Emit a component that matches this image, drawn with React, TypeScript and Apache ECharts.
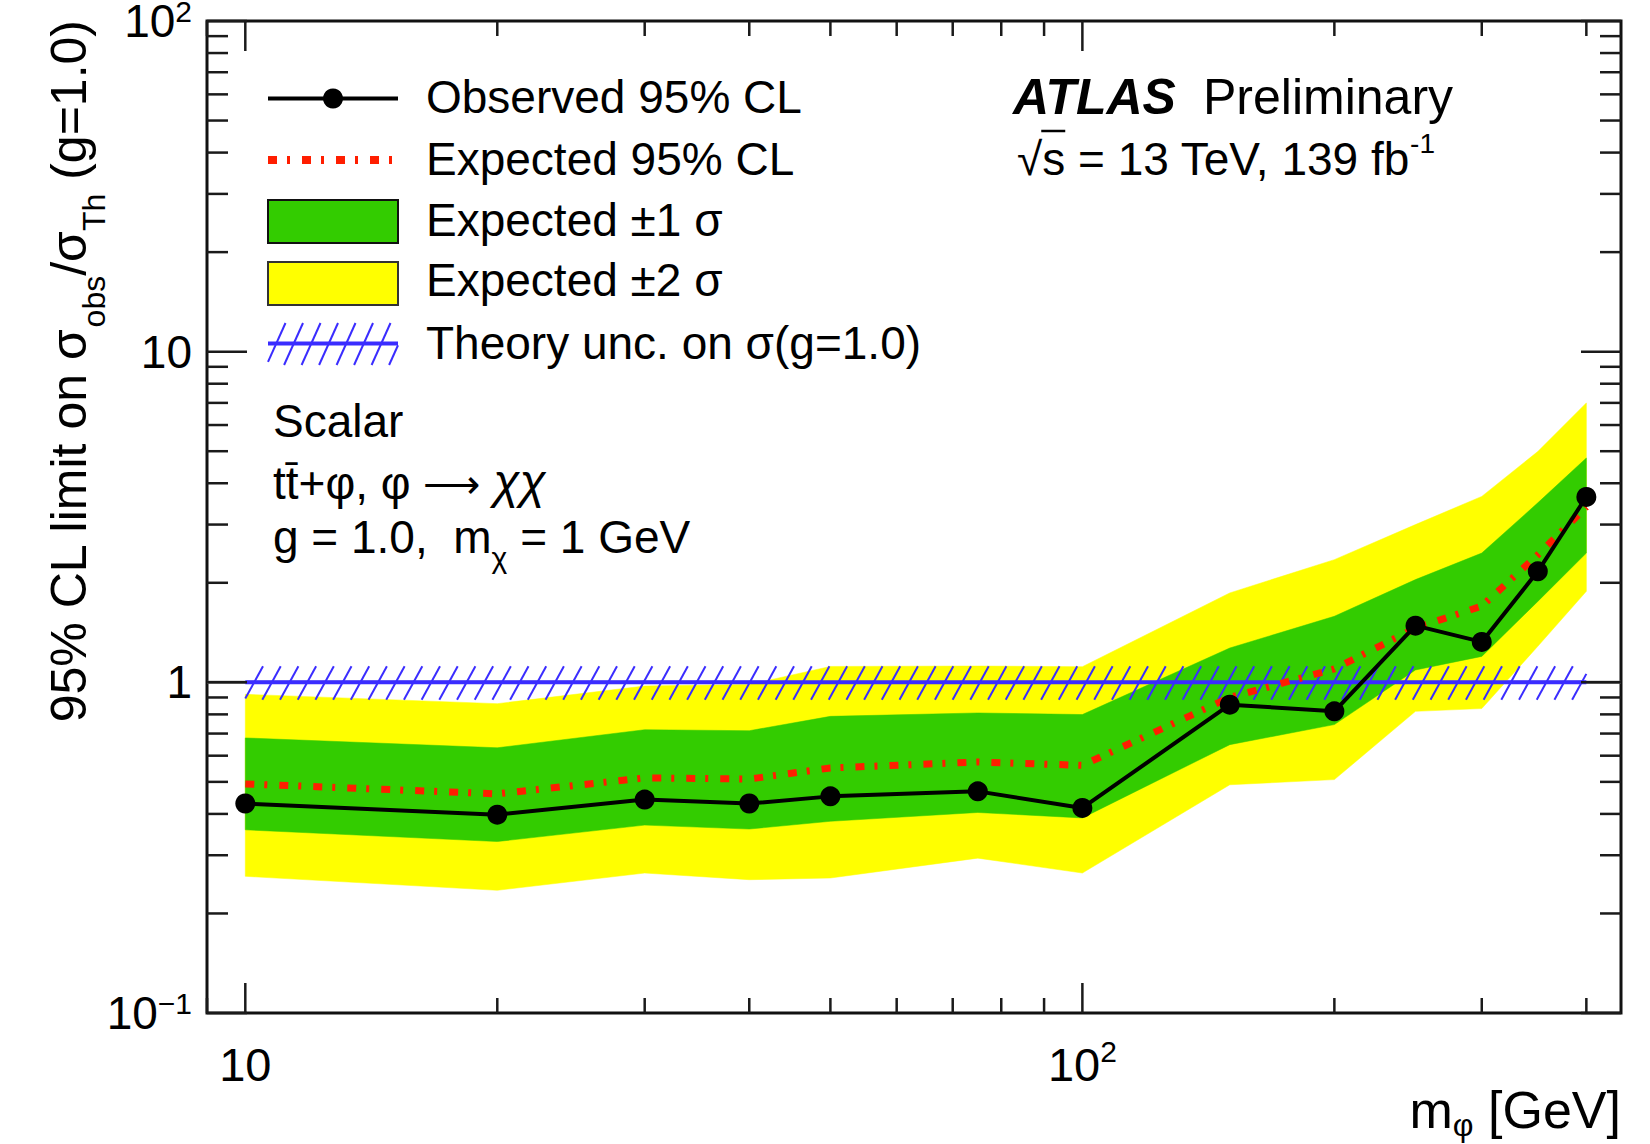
import React, { useEffect, useRef } from "react";
import * as echarts from "echarts";

const FONT = '"Liberation Sans", Arial, Helvetica, sans-serif';

// ---- data ----
const massPoints = [10, 20, 30, 40, 50, 75, 100, 150, 200, 250, 300, 350, 400];
const observedLimit = [0.43, 0.398, 0.442, 0.43, 0.452, 0.468, 0.417, 0.856, 0.817, 1.484, 1.325, 2.166, 3.636];
const expectedLimit = [0.493, 0.46, 0.514, 0.51, 0.551, 0.574, 0.561, 0.9, 1.098, 1.46, 1.7, 2.43, 3.39];
const oneSigmaLow = [0.358, 0.33, 0.37, 0.36, 0.38, 0.404, 0.389, 0.648, 0.745, 1.09, 1.198, 1.757, 2.46];
const oneSigmaHigh = [0.679, 0.634, 0.719, 0.714, 0.789, 0.808, 0.799, 1.27, 1.584, 2.045, 2.46, 3.49, 4.77];
const twoSigmaLow = [0.259, 0.235, 0.265, 0.253, 0.256, 0.294, 0.265, 0.49, 0.508, 0.817, 0.833, 1.285, 1.885];
const twoSigmaHigh = [0.92, 0.862, 0.975, 0.985, 1.117, 1.12, 1.115, 1.864, 2.35, 3.0, 3.65, 4.99, 7.0];
const theoryCentral = [1, 1, 1, 1, 1, 1, 1, 1, 1, 1, 1, 1, 1];
const theoryLow = [0.886, 0.886, 0.886, 0.886, 0.886, 0.886, 0.886, 0.886, 0.886, 0.886, 0.886, 0.886, 0.886];
const theoryHigh = [1.118, 1.118, 1.118, 1.118, 1.118, 1.118, 1.118, 1.118, 1.118, 1.118, 1.118, 1.118, 1.118];

// axis ranges and ticks
const xRange = [9, 440];
const yRange = [0.1, 100];
const yMajorTicks = [0.1, 1, 10, 100];
const yMinorTicks = [0.2, 0.3, 0.4, 0.5, 0.6, 0.7, 0.8, 0.9, 2, 3, 4, 5, 6, 7, 8, 9, 20, 30, 40, 50, 60, 70, 80, 90];
const xMajorTicks = [10, 100];
const xMinorTicks = [9, 20, 30, 40, 50, 60, 70, 80, 90, 200, 300, 400];

// legend texts
const legendLabels = [
  "Observed 95% CL",
  "Expected 95% CL",
  "Expected \u00b11 \u03c3",
  "Expected \u00b12 \u03c3",
  "Theory unc. on \u03c3(g=1.0)",
];

const GREEN = "#33cc00";
const YELLOW = "#ffff00";
const RED = "#ff1e00";
const BLUE = "#3a2cff";
const GREY = "#6e6e6e";
const TICK = "#1a1a1a";
const DASH = [9, 10, 3, 12];

let measureCtx: any = null;
function textWidth(text: string, font: string) {
  if (!measureCtx) measureCtx = document.createElement("canvas").getContext("2d");
  measureCtx.font = font;
  return measureCtx.measureText(text).width;
}

type Seg = { t: string; size: number; dy?: number; bold?: boolean; italic?: boolean; dx?: number };
function fontOf(s: Seg) {
  return `${s.italic ? "italic " : ""}${s.bold ? "bold " : ""}${s.size}px ${FONT}`;
}
function segsWidth(segs: Seg[]) {
  return segs.reduce((w, s) => w + textWidth(s.t, fontOf(s)) + (s.dx ?? 0), 0);
}
function layoutSegs(segs: Seg[], x0: number, baseline: number) {
  const els: any[] = [];
  const xs: number[] = [];
  let x = x0;
  for (const s of segs) {
    const font = fontOf(s);
    xs.push(x);
    els.push({
      type: "text",
      x,
      y: baseline + (s.dy ?? 0) - 0.3465 * s.size,
      silent: true,
      style: {
        text: s.t,
        font,
        fill: "#000",
        align: "left",
        verticalAlign: "middle",
        textAlign: "left",
        textVerticalAlign: "middle",
      },
    });
    x += textWidth(s.t, font) + (s.dx ?? 0);
  }
  return { els, xs, end: x };
}

function hatchLines(xl: number, xr: number, topAt: (x: number) => number, botAt: (x: number) => number, step: number, slant: number, color: string) {
  const out: any[] = [];
  const h0 = botAt(xl) - topAt(xl);
  for (let x0 = xl - slant * h0; x0 < xr; x0 += step) {
    const yb = botAt(Math.max(xl, Math.min(xr, x0)));
    const yt = topAt(Math.max(xl, Math.min(xr, x0)));
    const dx = slant * (yb - yt);
    const tMin = Math.max(0, (xl - x0) / dx);
    const tMax = Math.min(1, (xr - x0) / dx);
    if (tMin >= tMax) continue;
    out.push({
      type: "line",
      shape: { x1: x0 + tMin * dx, y1: yb - tMin * (yb - yt), x2: x0 + tMax * dx, y2: yb - tMax * (yb - yt) },
      style: { stroke: color, lineWidth: 2 },
      silent: true,
    });
  }
  return out;
}

function decadeLabel(v: number) {
  const lg = Math.log10(v);
  const e = Math.round(lg);
  if (Math.abs(lg - e) > 1e-6) return "";
  if (e === 0) return "1";
  if (e === 1) return "10";
  return "10{sup|" + (e < 0 ? "\u2212" : "") + Math.abs(e) + "}";
}

function bandSeries(name: string, lo: number[], hi: number[], color: string, z: number) {
  return {
    type: "custom",
    name,
    z,
    silent: true,
    coordinateSystem: "cartesian2d",
    data: massPoints.map((m, i) => [m, lo[i], hi[i]]),
    encode: { x: 0, y: [1, 2] },
    renderItem: (params: any, api: any) => {
      if (params.dataIndex !== 0) return { type: "group", children: [] };
      const lower = massPoints.map((m, i) => api.coord([m, lo[i]]));
      const upper = massPoints.map((m, i) => api.coord([m, hi[i]])).reverse();
      return {
        type: "polygon",
        shape: { points: [...lower, ...upper] },
        style: { fill: color, stroke: color, lineWidth: 0.5 },
      };
    },
  };
}

function buildOption() {
  const xRich = {
    sup: { fontFamily: FONT, fontSize: 30, lineHeight: 30, verticalAlign: "top", color: "#000" },
  };
  const yRich = {
    sup: { fontFamily: FONT, fontSize: 30, lineHeight: 34, verticalAlign: "top", color: "#000" },
  };

  // ---- texts ----
  const graphics: any[] = [];

  // y-axis title (rotated)
  const ySegs: Seg[] = [
    { t: "95% CL limit on \u03c3", size: 50 },
    { t: "obs", size: 32, dy: 19 },
    { t: "/\u03c3", size: 50 },
    { t: "Th", size: 32, dy: 19 },
    { t: " (g=1.0)", size: 50 },
  ];
  const yLen = segsWidth(ySegs);
  graphics.push({
    type: "group",
    x: 86,
    y: 20 + yLen,
    rotation: Math.PI / 2,
    children: layoutSegs(ySegs, 0, 0).els,
  });

  // x-axis title
  const xSegs: Seg[] = [
    { t: "m", size: 52 },
    { t: "\u03c6", size: 32, dy: 8 },
    { t: " [GeV]", size: 52 },
  ];
  const xLen = segsWidth(xSegs);
  graphics.push(...layoutSegs(xSegs, 1621 - xLen, 1128).els);

  // ATLAS label
  graphics.push(...layoutSegs([{ t: "ATLAS", size: 50, bold: true, italic: true }], 1013, 114.5).els);
  graphics.push(...layoutSegs([{ t: "Preliminary", size: 50 }], 1203, 114.5).els);
  const lumi = layoutSegs(
    [
      { t: "\u221a", size: 46 },
      { t: "s", size: 46 },
      { t: " = 13 TeV, 139 fb", size: 46 },
      { t: "-1", size: 28, dy: -22 },
    ],
    1017,
    175
  );
  graphics.push(...lumi.els);
  graphics.push({
    type: "line",
    silent: true,
    shape: { x1: lumi.xs[1] - 1, y1: 131, x2: lumi.xs[2], y2: 131 },
    style: { stroke: "#000", lineWidth: 2.5 },
  });

  // process text
  graphics.push(...layoutSegs([{ t: "Scalar", size: 46 }], 273, 436.5).els);
  graphics.push(
    ...layoutSegs(
      [
        { t: "tt\u0304+\u03c6, \u03c6 ", size: 46 },
        { t: "\u27f6", size: 40, dy: -1 },
        { t: " ", size: 46 },
        { t: "\u03c7\u03c7", size: 48, italic: true },
      ],
      273,
      498.5
    ).els
  );
  graphics.push(
    ...layoutSegs(
      [
        { t: "g = 1.0,  m", size: 46 },
        { t: "\u03c7", size: 30, dy: 15 },
        { t: " = 1 GeV", size: 46 },
      ],
      273,
      553
    ).els
  );

  // legend symbols
  const lx1 = 268;
  const lx2 = 398;
  graphics.push(
    { type: "line", silent: true, shape: { x1: lx1, y1: 98.5, x2: lx2, y2: 98.5 }, style: { stroke: "#000", lineWidth: 4 } },
    { type: "circle", silent: true, shape: { cx: (lx1 + lx2) / 2, cy: 98.5, r: 10 }, style: { fill: "#000" } },
    { type: "line", silent: true, shape: { x1: lx1, y1: 160, x2: lx2, y2: 160 }, style: { stroke: RED, lineWidth: 8, lineDash: DASH } },
    { type: "rect", silent: true, shape: { x: lx1, y: 200, width: lx2 - lx1, height: 43 }, style: { fill: GREEN, stroke: "#111", lineWidth: 2 } },
    { type: "rect", silent: true, shape: { x: lx1, y: 262, width: lx2 - lx1, height: 43 }, style: { fill: YELLOW, stroke: "#333", lineWidth: 2 } }
  );
  graphics.push(...hatchLines(lx1, lx2, () => 323, () => 365, 17.5, 0.45, BLUE));
  graphics.push({ type: "line", silent: true, shape: { x1: lx1, y1: 343.5, x2: lx2, y2: 343.5 }, style: { stroke: BLUE, lineWidth: 4 } });
  const legendBase = [112.5, 174.5, 235.5, 295.5, 358.5];
  legendLabels.forEach((t, i) => graphics.push(...layoutSegs([{ t, size: 46 }], 426, legendBase[i]).els));

  return {
    animation: false,
    backgroundColor: "#ffffff",
    grid: {
      left: 207,
      right: 29,
      top: 21,
      bottom: 131,
      show: true,
      borderColor: "#111",
      borderWidth: 3,
      backgroundColor: "transparent",
      containLabel: false,
      outerBoundsMode: "none",
    },
    xAxis: {
      type: "log",
      logBase: 10,
      min: xRange[0],
      max: xRange[1],
      axisLine: { show: false },
      axisTick: { show: false },
      splitLine: { show: false },
      minorTick: { show: false },
      axisLabel: {
        formatter: decadeLabel,
        color: "#000",
        fontFamily: FONT,
        fontSize: 47,
        lineHeight: 56,
        margin: 23,
        rich: xRich,
      },
    },
    yAxis: {
      type: "log",
      logBase: 10,
      min: yRange[0],
      max: yRange[1],
      axisLine: { show: false },
      axisTick: { show: false },
      splitLine: { show: false },
      minorTick: { show: false },
      axisLabel: {
        formatter: decadeLabel,
        color: "#000",
        fontFamily: FONT,
        fontSize: 46,
        lineHeight: 50,
        margin: 15,
        rich: yRich,
      },
    },
    series: [
      {
        type: "custom",
        name: "reference line",
        z: 1,
        silent: true,
        coordinateSystem: "cartesian2d",
        data: [[massPoints[0], 1]],
        renderItem: (params: any, api: any) => {
          const cs = params.coordSys;
          const y = api.coord([massPoints[0], 1])[1];
          return { type: "line", shape: { x1: cs.x, y1: y, x2: cs.x + cs.width, y2: y }, style: { stroke: GREY, lineWidth: 3 } };
        },
      },
      bandSeries("Expected \u00b12 \u03c3", twoSigmaLow, twoSigmaHigh, YELLOW, 2),
      bandSeries("Expected \u00b11 \u03c3", oneSigmaLow, oneSigmaHigh, GREEN, 3),
      {
        type: "custom",
        name: "Theory unc.",
        z: 4,
        silent: true,
        coordinateSystem: "cartesian2d",
        data: massPoints.map((m, i) => [m, theoryLow[i], theoryHigh[i]]),
        encode: { x: 0, y: [1, 2] },
        renderItem: (params: any, api: any) => {
          if (params.dataIndex !== 0) return { type: "group", children: [] };
          const tops = massPoints.map((m, i) => api.coord([m, theoryHigh[i]]));
          const bots = massPoints.map((m, i) => api.coord([m, theoryLow[i]]));
          const interp = (pts: number[][], x: number) => {
            for (let i = 0; i < pts.length - 1; i++) {
              if (x >= pts[i][0] && x <= pts[i + 1][0]) {
                const f = (x - pts[i][0]) / (pts[i + 1][0] - pts[i][0]);
                return pts[i][1] + f * (pts[i + 1][1] - pts[i][1]);
              }
            }
            return x < pts[0][0] ? pts[0][1] : pts[pts.length - 1][1];
          };
          const xl = tops[0][0];
          const xr = tops[tops.length - 1][0];
          return {
            type: "group",
            children: hatchLines(xl, xr, (x) => interp(tops, x), (x) => interp(bots, x), 17.7, 0.55, BLUE),
          };
        },
      },
      {
        type: "line",
        name: "Theory",
        z: 5,
        silent: true,
        data: massPoints.map((m, i) => [m, theoryCentral[i]]),
        symbol: "none",
        lineStyle: { color: BLUE, width: 4 },
      },
      {
        type: "line",
        name: "Expected 95% CL",
        z: 6,
        silent: true,
        data: massPoints.map((m, i) => [m, expectedLimit[i]]),
        symbol: "none",
        lineStyle: { color: RED, width: 7, type: DASH, cap: "butt" },
      },
      {
        type: "line",
        name: "Observed 95% CL",
        z: 7,
        silent: true,
        data: massPoints.map((m, i) => [m, observedLimit[i]]),
        symbol: "circle",
        symbolSize: 20,
        showSymbol: true,
        itemStyle: { color: "#000", borderWidth: 0 },
        lineStyle: { color: "#000", width: 4 },
      },
      {
        type: "custom",
        name: "ticks",
        z: 8,
        silent: true,
        clip: false,
        coordinateSystem: "cartesian2d",
        data: [[massPoints[0], 1]],
        renderItem: (params: any, api: any) => {
          const cs = params.coordSys;
          const L = cs.x;
          const R = cs.x + cs.width;
          const T = cs.y;
          const B = cs.y + cs.height;
          const ch: any[] = [];
          const seg = (x1: number, y1: number, x2: number, y2: number) =>
            ch.push({ type: "line", shape: { x1, y1, x2, y2 }, style: { stroke: TICK, lineWidth: 2.5 } });
          const yAt = (v: number) => api.coord([massPoints[0], v])[1];
          const xAt = (v: number) => api.coord([v, 1])[0];
          yMajorTicks.forEach((v) => {
            const y = yAt(v);
            seg(L, y, L + 40, y);
            seg(R, y, R - 40, y);
          });
          yMinorTicks.forEach((v) => {
            const y = yAt(v);
            seg(L, y, L + 21, y);
            seg(R, y, R - 21, y);
          });
          xMajorTicks.forEach((v) => {
            const x = xAt(v);
            seg(x, B, x, B - 30);
            seg(x, T, x, T + 30);
          });
          xMinorTicks.forEach((v) => {
            const x = xAt(v);
            seg(x, B, x, B - 15);
            seg(x, T, x, T + 15);
          });
          return { type: "group", children: ch };
        },
      },
    ],
    graphic: { elements: graphics },
  };
}

export default function App() {
  const ref = useRef<HTMLDivElement>(null);
  useEffect(() => {
    if (!ref.current) return;
    const chart = echarts.init(ref.current, null, { renderer: "svg" });
    chart.setOption(buildOption() as any);
    return () => chart.dispose();
  }, []);
  return (
    <div
      ref={ref}
      style={{ position: "absolute", left: 0, top: 0, width: 1650, height: 1144, background: "#fff" }}
    />
  );
}
